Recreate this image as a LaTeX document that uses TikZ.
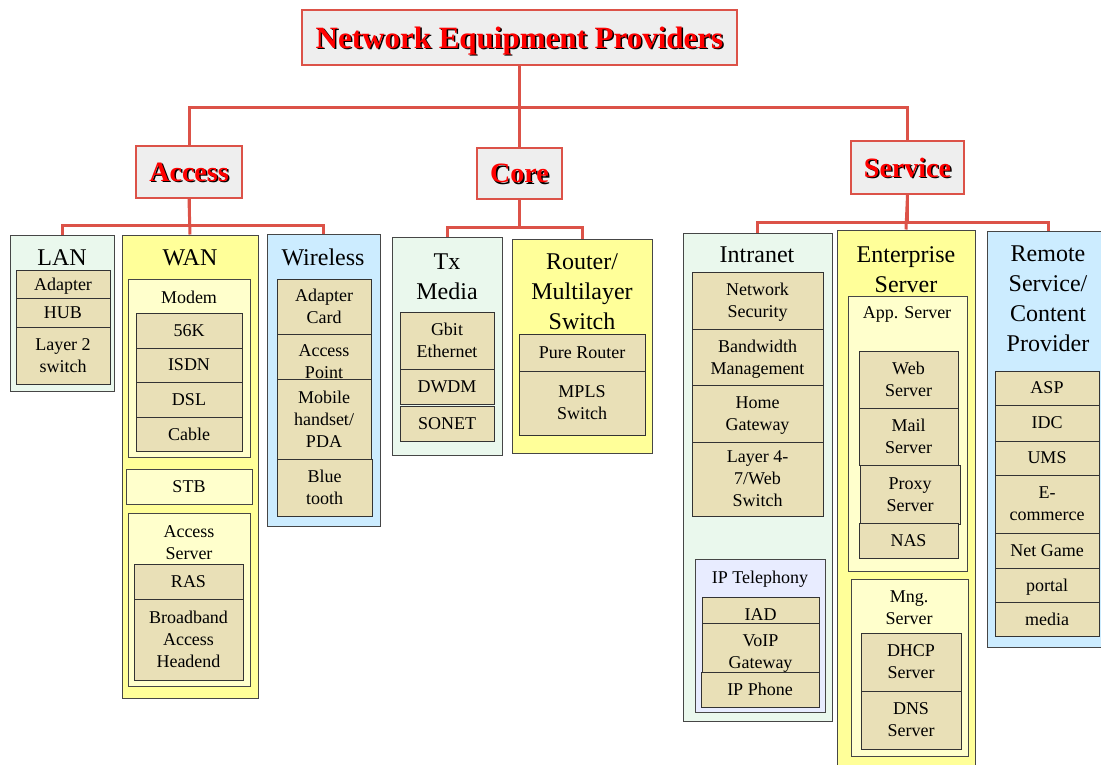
\documentclass[tikz,border=0pt]{standalone}
\usepackage{fontspec}
\setmainfont{Liberation Serif}
\usepackage{tikz}
\usetikzlibrary{positioning}
\definecolor{nered}{RGB}{220,82,72}
\definecolor{hdrgray}{RGB}{238,238,238}
\definecolor{edgegray}{RGB}{70,70,70}
\definecolor{grpgreen}{RGB}{234,248,237}
\definecolor{grpyellow}{RGB}{255,255,153}
\definecolor{grplight}{RGB}{255,255,204}
\definecolor{grpblue}{RGB}{204,236,255}
\definecolor{grplav}{RGB}{232,236,255}
\definecolor{itemtan}{RGB}{233,224,183}
\newcommand{\itemfont}{\fontsize{18}{22}\selectfont}
\newcommand{\ttlfont}{\fontsize{24}{30}\selectfont}
\newcommand{\hdrfont}{\bfseries\fontsize{28}{34}\selectfont}
\newcommand{\topfont}{\bfseries\fontsize{31}{37}\selectfont}
% red text with a black drop shadow
\newcommand{\shtext}[1]{\makebox[0pt][l]{\hspace{1.5pt}\raisebox{-1.5pt}{\color{black}#1}}{\color{red}#1}}
% box from corner (x1,y1) to (x2,y2): name, style, x1, y1, x2, y2, text
\newcommand{\boxcell}[7]{\node[#2, minimum width={(#5)-(#3)}, minimum height={(#6)-(#4)}] (#1) at ({((#3)+(#5))/2},{((#4)+(#6))/2}) {#7};}

\begin{document}
\begin{tikzpicture}[x=1pt, y=-1pt,
  link/.style={draw=nered, line width=3pt},
  hdr/.style={draw=nered, line width=2pt, fill=hdrgray, inner sep=0pt, text depth=-3pt},
  grp/.style={draw=edgegray, line width=1pt, inner sep=0pt, align=center, font=\itemfont, text depth=-3pt},
  item/.style={draw=black!80, line width=1pt, fill=itemtan, inner sep=0pt, align=center, font=\itemfont, text depth=-3pt},
  ttl/.style={align=center, font=\ttlfont, inner sep=0pt},
  sub/.style={align=center, font=\itemfont, inner sep=0pt}]
\useasboundingbox (0,0) rectangle (1101,764);
% Top level and categories
\boxcell{npe}{hdr, font=\topfont, text depth=-4pt}{302}{10}{737}{65}{\shtext{Network Equipment Providers}}
\boxcell{access}{hdr, font=\hdrfont}{136}{146}{242}{198}{\shtext{Access}}
\boxcell{core}{hdr, font=\hdrfont}{477}{148}{562}{199}{\shtext{Core}}
\boxcell{service}{hdr, font=\hdrfont}{851}{141}{964}{194}{\shtext{Service}}
% Access: LAN
\boxcell{lan}{grp, fill=grpgreen}{10}{235}{114}{391}{}
\node[ttl] (lan-t) at (62,258) {LAN};
\boxcell{adapter}{item}{16}{270}{110}{298}{Adapter}
\boxcell{hub}{item}{16}{298}{110}{327}{HUB}
\boxcell{l2sw}{item}{16}{327}{110}{384}{Layer 2\\switch}
% Access: WAN
\boxcell{wan}{grp, fill=grpyellow}{122}{235}{258}{698}{}
\node[ttl] (wan-t) at (190,258) {WAN};
\boxcell{modem}{grp, fill=grplight}{128}{279}{250}{457}{}
\node[sub] (modem-t) at (189,297) {Modem};
\boxcell{k56}{item}{136}{313}{242}{348}{56K}
\boxcell{isdn}{item}{136}{348}{242}{382}{ISDN}
\boxcell{dsl}{item}{136}{382}{242}{417}{DSL}
\boxcell{cable}{item}{136}{417}{242}{451}{Cable}
\boxcell{stb}{grp, fill=grplight}{126}{469}{252}{504}{STB}
\boxcell{acsrv}{grp, fill=grplight}{128}{513}{250}{686}{}
\node[sub] (acsrv-t) at (189,543) {Access\\Server};
\boxcell{ras}{item}{134}{564}{243}{599}{RAS}
\boxcell{bbah}{item}{134}{599}{243}{680}{Broadband\\Access\\Headend}
% Access: Wireless
\boxcell{wireless}{grp, fill=grpblue}{267}{234}{380}{526}{}
\node[ttl] (wireless-t) at (323,257) {Wireless};
\boxcell{adcard}{item}{277}{279}{371}{334}{Adapter\\Card}
\boxcell{accpt}{item}{277}{334}{371}{390}{Access\\Point}
\boxcell{mobile}{item}{277}{379}{371}{459}{Mobile\\handset/\\PDA}
\boxcell{bluet}{item}{277}{459}{372}{516}{Blue\\tooth}
% Core: Tx Media
\boxcell{txmedia}{grp, fill=grpgreen}{392}{237}{502}{455}{}
\node[ttl] (txmedia-t) at (447,277) {Tx\\Media};
\boxcell{gbit}{item}{400}{312}{494}{369}{Gbit\\Ethernet}
\boxcell{dwdm}{item}{400}{369}{494}{404}{DWDM}
\boxcell{sonet}{item}{400}{406}{494}{441}{SONET}
% Core: Router
\boxcell{router}{grp, fill=grpyellow}{512}{239}{652}{453}{}
\node[ttl] (router-t) at (582,292) {Router/\\Multilayer\\Switch};
\boxcell{pure}{item}{519}{334}{645}{371}{Pure Router}
\boxcell{mpls}{item}{519}{371}{645}{435}{MPLS\\Switch}
% Service: Intranet
\boxcell{intranet}{grp, fill=grpgreen}{683}{233}{832}{721}{}
\node[ttl] (intranet-t) at (757,255) {Intranet};
\boxcell{netsec}{item}{692}{272}{823}{329}{Network\\Security}
\boxcell{bwm}{item}{692}{329}{823}{385}{Bandwidth\\Management}
\boxcell{homegw}{item}{692}{385}{823}{442}{Home\\Gateway}
\boxcell{l47}{item}{692}{442}{823}{516}{Layer 4-\\7/Web\\Switch}
\boxcell{iptel}{grp, fill=grplav}{695}{559}{825}{712}{}
\node[sub] (iptel-t) at (760,579) {IP Telephony};
\boxcell{iad}{item}{702}{597}{819}{633}{IAD}
\boxcell{voip}{item}{702}{623}{819}{681}{VoIP\\Gateway}
\boxcell{ipphone}{item}{701}{672}{819}{707}{IP Phone}
% Service: Enterprise Server
\boxcell{entsrv}{grp, fill=grpyellow}{837}{230}{975}{775}{}
\node[ttl] (entsrv-t) at (906,270) {Enterprise\\Server};
\boxcell{appsrv}{grp, fill=grplight}{848}{296}{967}{571}{}
\node[sub] (appsrv-t) at (907,314) {App. Server};
\boxcell{web}{item}{859}{351}{958}{408}{Web\\Server}
\boxcell{mail}{item}{859}{408}{958}{465}{Mail\\Server}
\boxcell{proxy}{item}{860}{465}{960}{524}{Proxy\\Server}
\boxcell{nas}{item}{859}{523}{958}{558}{NAS}
\boxcell{mngsrv}{grp, fill=grplight}{851}{579}{968}{756}{}
\node[sub] (mngsrv-t) at (909,608) {Mng.\\Server};
\boxcell{dhcp}{item}{861}{633}{961}{691}{DHCP\\Server}
\boxcell{dns}{item}{861}{691}{961}{749}{DNS\\Server}
% Service: Remote Service / Content Provider
\boxcell{remote}{grp, fill=grpblue}{987}{231}{1110}{647}{}
\node[ttl] (remote-t) at (1048,299) {Remote\\Service/\\Content\\Provider};
\boxcell{asp}{item}{995}{371}{1099}{405}{ASP}
\boxcell{idc}{item}{995}{405}{1099}{441}{IDC}
\boxcell{ums}{item}{995}{441}{1099}{475}{UMS}
\boxcell{ecom}{item}{995}{475}{1099}{533}{E-\\commerce}
\boxcell{netgame}{item}{995}{533}{1099}{568}{Net Game}
\boxcell{portal}{item}{995}{568}{1099}{602}{portal}
\boxcell{media}{item}{995}{602}{1099}{636}{media}
% Connectors
\draw[link] (npe.south) -- (core.north);
\draw[link] (npe.south) -- ++(0,41) -| (access.north);
\draw[link] (npe.south) -- ++(0,41) -| (service.north);
\draw[link] (access.south) -- (wan.north);
\draw[link] (access.south) -- ++(0,26) -| (lan.north);
\draw[link] (access.south) -- ++(0,26) -| (wireless.north);
\draw[link] (core.south) -- ++(0,27) -| (txmedia.north);
\draw[link] (core.south) -- ++(0,27) -| (router.north);
\draw[link] (service.south) -- (entsrv.north);
\draw[link] (service.south) -- ++(0,27) -| (intranet.north);
\draw[link] (service.south) -- ++(0,27) -| (remote.north);
\end{tikzpicture}
\end{document}
